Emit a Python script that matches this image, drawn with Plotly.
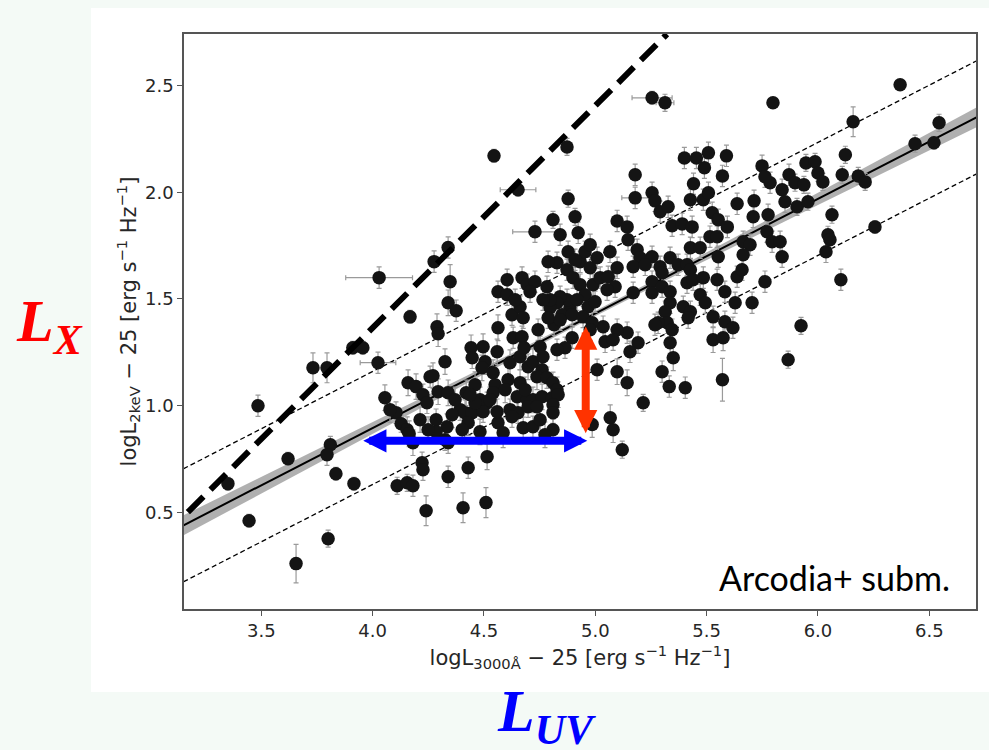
import plotly.graph_objects as go

# ---------------- data ----------------
log_luv = [
    3.350, 3.485, 3.445, 3.620, 3.810, 3.795, 3.835, 3.916, 3.800, 3.656,
    4.029, 4.168, 3.732, 3.795, 3.911, 3.956, 4.024, 4.105, 4.159, 4.195,
    4.226, 4.244, 4.258, 4.128, 4.155, 4.164, 4.181, 4.222, 4.226, 4.110,
    4.155, 4.181, 4.240, 4.406, 4.509, 4.276, 4.339, 4.348, 4.339, 4.375,
    4.289, 4.294, 4.325, 4.271, 4.294, 4.339, 4.285, 4.334, 4.285, 4.393,
    4.415, 4.447, 4.420, 4.460, 4.442, 4.496, 4.447, 4.505, 4.491, 4.559,
    4.563, 4.541, 4.550, 4.541, 4.482, 4.514, 4.496, 4.604, 4.563, 4.604,
    4.671, 4.694, 4.729, 4.783, 4.626, 4.662, 4.676, 4.631, 4.671, 4.743,
    4.752, 4.617, 4.662, 4.698, 4.680, 4.720, 4.765, 4.761, 4.662, 4.738,
    4.783, 4.810, 4.828, 4.608, 4.649, 4.694, 4.720, 4.761, 4.806, 4.833,
    4.617, 4.653, 4.698, 4.738, 4.810, 4.810, 4.626, 4.676, 4.720, 4.810,
    4.563, 4.586, 4.429, 4.460, 4.527, 4.339, 4.429, 4.514, 4.339, 4.886,
    4.873, 4.842, 4.828, 4.851, 4.797, 4.828, 4.873, 4.878, 4.932, 4.954,
    4.977, 4.842, 4.923, 4.729, 4.900, 4.932, 4.954, 4.968, 4.896, 4.864,
    4.990, 4.999, 5.008, 5.400, 5.454, 5.508, 5.490, 5.589, 5.571, 5.179,
    5.179, 5.255, 5.268, 5.441, 5.427, 5.485, 5.508, 5.291, 5.327, 5.098,
    5.143, 5.345, 5.390, 5.435, 5.525, 5.552, 5.593, 5.637, 5.713, 5.749,
    5.785, 5.839, 5.852, 5.709, 5.776, 5.515, 5.547, 5.664, 5.695, 5.771,
    5.794, 5.830, 5.839, 5.664, 5.552, 5.427, 5.471, 5.336, 5.291, 5.255,
    5.147, 5.188, 5.201, 5.066, 5.008, 5.098, 5.170, 5.224, 5.372, 5.412,
    5.427, 5.022, 5.058, 5.089, 5.053, 5.170, 5.255, 5.255, 5.300, 5.336,
    5.300, 5.412, 5.439, 5.485, 5.547, 5.582, 5.637, 5.659, 5.762, 5.471,
    5.494, 5.395, 5.427, 5.628, 5.704, 5.336, 5.314, 5.323, 5.345, 5.282,
    5.336, 5.350, 5.529, 5.582, 5.618, 5.529, 5.574, 5.417, 5.143, 5.192,
    5.156, 5.098, 5.044, 5.080, 5.035, 5.300, 5.866, 5.571, 5.255, 5.313,
    5.798, 6.369, 6.158, 6.544, 6.436, 6.521, 5.762, 5.870, 5.897, 5.937,
    5.946, 5.987, 6.000, 6.022, 6.123, 6.109, 6.181, 6.212, 5.906, 5.955,
    6.063, 6.045, 6.054, 6.256, 6.036, 6.103, 5.924, 4.545, 4.653, 4.873,
    4.878, 4.909, 4.810, 4.797, 4.896, 4.945, 4.815, 4.986, 5.067, 5.080,
    5.121, 5.215, 5.098, 5.143, 4.986, 5.332, 5.404, 5.268, 4.828, 4.788,
    4.765, 4.909, 4.977, 4.918, 4.842, 4.977, 4.788, 4.707, 4.640, 4.055,
    4.078, 4.370, 4.402, 4.357, 4.213, 4.249, 4.325, 4.595, 4.559, 4.685,
    4.752, 4.774, 4.482, 4.438,
]
log_lx = [
    0.634, 0.999, 0.460, 0.751, 0.816, 0.770, 0.680, 0.634, 0.376, 0.259,
    1.600, 1.416, 1.177, 1.177, 1.271, 1.271, 1.201, 0.967, 1.107, 1.089,
    1.051, 1.013, 1.135, 0.915, 0.887, 0.868, 0.826, 0.732, 0.699, 0.624,
    0.638, 0.624, 0.507, 0.521, 0.545, 1.675, 1.741, 1.581, 1.482, 1.445,
    1.370, 1.337, 1.206, 1.140, 1.065, 1.060, 0.934, 0.901, 0.877, 0.981,
    0.967, 0.967, 1.060, 1.098, 1.271, 1.276, 1.224, 1.206, 1.177, 1.252,
    1.365, 1.154, 1.098, 1.060, 1.027, 1.013, 0.971, 1.590, 1.534, 1.520,
    1.600, 1.567, 1.581, 1.557, 1.426, 1.463, 1.412, 1.318, 1.323, 1.356,
    1.276, 1.201, 1.229, 1.182, 1.271, 1.206, 1.229, 1.168, 1.107, 1.135,
    1.131, 1.107, 1.074, 1.121, 1.041, 1.027, 1.027, 1.041, 1.037, 1.051,
    0.981, 0.967, 0.995, 0.995, 1.004, 0.967, 0.948, 0.896, 0.901, 0.887,
    0.920, 0.873, 0.920, 1.013, 1.027, 0.826, 0.709, 0.760, 0.666, 1.459,
    1.496, 1.510, 1.482, 1.426, 1.459, 1.670, 1.637, 1.721, 1.674, 1.721,
    1.754, 1.801, 1.810, 1.815, 1.600, 1.567, 1.520, 1.463, 1.318, 1.271,
    1.567, 1.487, 1.168, 2.161, 2.161, 2.185, 2.115, 2.171, 2.077, 2.082,
    1.974, 1.998, 1.960, 2.040, 1.965, 1.965, 1.998, 1.909, 1.932, 1.866,
    1.838, 1.843, 1.852, 1.838, 1.904, 1.871, 1.838, 1.946, 1.960, 2.124,
    2.045, 2.012, 1.956, 1.885, 1.895, 1.792, 1.792, 1.768, 1.754, 1.815,
    1.768, 1.768, 1.698, 1.707, 1.698, 1.740, 1.740, 1.693, 1.651, 1.698,
    1.778, 1.731, 1.693, 1.721, 1.693, 1.646, 1.651, 1.660, 1.660, 1.660,
    1.637, 1.600, 1.604, 1.557, 1.543, 1.529, 1.581, 1.529, 1.557, 1.534,
    1.623, 1.576, 1.590, 1.600, 1.590, 1.534, 1.604, 1.637, 1.581, 1.520,
    1.482, 1.463, 1.440, 1.482, 1.482, 1.482, 1.440, 1.388, 1.356, 1.388,
    1.295, 1.224, 1.416, 1.393, 1.365, 1.309, 1.318, 1.412, 1.342, 1.295,
    1.252, 1.356, 1.299, 1.309, 1.370, 1.159, 1.215, 1.121, 2.443, 2.420,
    2.420, 2.504, 2.331, 2.326, 2.228, 2.232, 2.073, 2.082, 2.045, 2.035,
    2.138, 2.143, 2.091, 2.049, 2.176, 2.082, 2.077, 2.049, 1.932, 1.956,
    1.895, 1.801, 1.778, 1.838, 1.721, 1.590, 1.374, 2.171, 2.012, 2.213,
    1.970, 1.885, 1.871, 1.496, 1.426, 1.416, 1.379, 0.911, 0.943, 0.887,
    0.793, 1.013, 1.159, 1.107, 1.388, 1.089, 1.084, 1.379, 1.262, 1.674,
    1.496, 1.684, 1.646, 1.496, 1.402, 1.356, 1.412, 1.534, 1.496, 1.037,
    0.981, 1.027, 0.887, 0.957, 0.934, 0.887, 0.840, 1.074, 0.971, 1.074,
    0.934, 0.863, 0.877, 1.051,
]
err_lx = [
    0.03, 0.05, 0.03, 0.03, 0.04, 0.05, 0.03, 0.03, 0.04, 0.09,
    0.05, 0.03, 0.07, 0.07, 0.03, 0.03, 0.05, 0.05, 0.06, 0.06,
    0.05, 0.05, 0.05, 0.04, 0.06, 0.06, 0.06, 0.05, 0.05, 0.04,
    0.04, 0.05, 0.07, 0.07, 0.07, 0.05, 0.05, 0.08, 0.06, 0.05,
    0.06, 0.06, 0.06, 0.06, 0.06, 0.06, 0.05, 0.06, 0.05, 0.05,
    0.06, 0.06, 0.06, 0.06, 0.06, 0.06, 0.05, 0.06, 0.06, 0.06,
    0.06, 0.06, 0.06, 0.05, 0.06, 0.05, 0.05, 0.05, 0.05, 0.05,
    0.05, 0.05, 0.05, 0.05, 0.05, 0.05, 0.05, 0.05, 0.05, 0.05,
    0.05, 0.06, 0.06, 0.06, 0.05, 0.06, 0.05, 0.06, 0.06, 0.06,
    0.05, 0.05, 0.06, 0.06, 0.06, 0.06, 0.06, 0.06, 0.06, 0.06,
    0.05, 0.05, 0.05, 0.05, 0.05, 0.05, 0.05, 0.05, 0.05, 0.05,
    0.07, 0.07, 0.06, 0.06, 0.06, 0.05, 0.05, 0.06, 0.05, 0.05,
    0.05, 0.05, 0.05, 0.05, 0.05, 0.05, 0.05, 0.05, 0.05, 0.05,
    0.05, 0.05, 0.05, 0.05, 0.05, 0.05, 0.05, 0.05, 0.05, 0.05,
    0.05, 0.05, 0.05, 0.05, 0.05, 0.05, 0.05, 0.05, 0.05, 0.05,
    0.05, 0.05, 0.05, 0.05, 0.05, 0.05, 0.05, 0.05, 0.05, 0.05,
    0.05, 0.05, 0.05, 0.05, 0.05, 0.05, 0.05, 0.05, 0.05, 0.05,
    0.05, 0.05, 0.05, 0.05, 0.05, 0.05, 0.05, 0.05, 0.05, 0.05,
    0.05, 0.05, 0.05, 0.05, 0.05, 0.05, 0.05, 0.05, 0.05, 0.05,
    0.05, 0.05, 0.05, 0.05, 0.05, 0.05, 0.05, 0.05, 0.05, 0.05,
    0.05, 0.05, 0.05, 0.05, 0.05, 0.05, 0.05, 0.05, 0.05, 0.05,
    0.05, 0.05, 0.05, 0.05, 0.05, 0.05, 0.05, 0.05, 0.05, 0.05,
    0.05, 0.05, 0.05, 0.05, 0.05, 0.05, 0.05, 0.05, 0.05, 0.05,
    0.05, 0.06, 0.05, 0.05, 0.05, 0.06, 0.06, 0.05, 0.05, 0.05,
    0.05, 0.05, 0.05, 0.05, 0.05, 0.05, 0.04, 0.10, 0.03, 0.04,
    0.02, 0.02, 0.07, 0.04, 0.04, 0.03, 0.05, 0.05, 0.04, 0.04,
    0.04, 0.04, 0.04, 0.04, 0.04, 0.04, 0.04, 0.04, 0.04, 0.04,
    0.04, 0.04, 0.04, 0.03, 0.05, 0.05, 0.04, 0.03, 0.03, 0.04,
    0.04, 0.04, 0.04, 0.05, 0.05, 0.05, 0.05, 0.06, 0.06, 0.06,
    0.04, 0.04, 0.06, 0.06, 0.05, 0.05, 0.05, 0.05, 0.05, 0.05,
    0.05, 0.05, 0.05, 0.05, 0.05, 0.05, 0.05, 0.05, 0.05, 0.06,
    0.06, 0.06, 0.06, 0.06, 0.06, 0.06, 0.05, 0.06, 0.06, 0.06,
    0.06, 0.06, 0.06, 0.06,
]

# sources with visible horizontal (UV) error bars
hx_luv = [4.029, 4.024, 4.653, 4.729, 5.179, 5.255, 5.313]
hx_lx = [1.600, 1.201, 2.012, 1.815, 1.974, 2.443, 2.420]
hx_err = [0.150, 0.080, 0.080, 0.100, 0.060, 0.090, 0.040]

# best-fit relation and dispersion
fit_slope = 0.537
fit_intercept = -1.253
fit_dispersion = 0.265
x_span = [3.15, 6.72]
band_x = [3.15, 3.60, 4.00, 4.50, 4.95, 5.40, 6.00, 6.40, 6.72]
band_half = [0.047, 0.036, 0.026, 0.016, 0.012, 0.016, 0.029, 0.038, 0.047]

# thick dashed reference line
ref_x = [3.17, 5.322]
ref_y = [0.50, 2.742]

# arrows (data coordinates)
uv_arrow_x = [3.951, 4.964]
uv_arrow_y = 0.835
x_arrow_x = 4.957
x_arrow_y = [0.863, 1.371]

x_ticks = [3.5, 4.0, 4.5, 5.0, 5.5, 6.0, 6.5]
y_ticks = [0.5, 1.0, 1.5, 2.0, 2.5]
x_range = [3.1527, 6.7098]
y_range = [0.0462, 2.7424]

# ---------------- figure ----------------
W, H = 989, 750
ML, MR, MT, MB = 184, 13, 34, 141
PW, PH = W - ML - MR, H - MT - MB


def px(xp):
    return (xp - ML) / PW


def py(yp):
    return (H - MB - yp) / PH


def fit(v):
    return fit_intercept + fit_slope * v


fig = go.Figure()

fig.add_trace(go.Scatter(
    x=band_x, y=[fit(v) - h for v, h in zip(band_x, band_half)],
    mode="lines", line=dict(width=0, color="rgba(0,0,0,0)"),
    hoverinfo="skip", showlegend=False))
fig.add_trace(go.Scatter(
    x=band_x, y=[fit(v) + h for v, h in zip(band_x, band_half)],
    mode="lines", line=dict(width=0, color="rgba(0,0,0,0)"),
    fill="tonexty", fillcolor="rgba(150,150,150,0.75)",
    hoverinfo="skip", showlegend=False))

fig.add_trace(go.Scatter(
    x=x_span, y=[fit(v) for v in x_span], mode="lines",
    line=dict(color="black", width=2), showlegend=False))
for s in (1, -1):
    fig.add_trace(go.Scatter(
        x=x_span, y=[fit(v) + s * fit_dispersion for v in x_span], mode="lines",
        line=dict(color="black", width=1.3, dash="5px,3px"), showlegend=False))

fig.add_trace(go.Scatter(
    x=hx_luv, y=hx_lx, mode="markers",
    marker=dict(size=1, color="rgba(0,0,0,0)"),
    error_x=dict(type="data", array=hx_err, color="#9a9a9a", thickness=1.2, width=2.5),
    showlegend=False))

fig.add_trace(go.Scatter(
    x=log_luv, y=log_lx, mode="markers",
    marker=dict(size=13.5, color="#141414", line=dict(width=0)),
    error_y=dict(type="data", array=err_lx, color="#9a9a9a", thickness=1.2, width=2.5),
    showlegend=False))

fig.add_trace(go.Scatter(
    x=ref_x, y=ref_y, mode="lines",
    line=dict(color="black", width=6, dash="22px,10px"), showlegend=False))

tick_font = dict(family="DejaVu Sans", size=18, color="#262626")
title_font = dict(family="DejaVu Sans", size=21, color="#262626")
axis_common = dict(
    showline=True, linecolor="#555555", linewidth=1.5, mirror=True,
    ticks="outside", ticklen=5, tickwidth=1.3, tickcolor="#555555",
    showgrid=False, zeroline=False, tickfont=tick_font, tickformat=".1f")

fig.update_xaxes(
    range=x_range, tickvals=x_ticks,
    title=dict(text="logL<sub>3000Å</sub> − 25 [erg s<sup>−1</sup> Hz<sup>−1</sup>]",
               font=title_font, standoff=10),
    **axis_common)
fig.update_yaxes(
    range=y_range, tickvals=y_ticks,
    title=dict(text="logL<sub>2keV</sub> − 25 [erg s<sup>−1</sup> Hz<sup>−1</sup>]",
               font=title_font, standoff=3),
    **axis_common)

annotations = [
    dict(x=uv_arrow_x[1], y=uv_arrow_y, ax=uv_arrow_x[0], ay=uv_arrow_y,
         xref="x", yref="y", axref="x", ayref="y", text="", showarrow=True,
         arrowside="end+start", arrowhead=2, startarrowhead=2,
         arrowsize=0.58, startarrowsize=0.58, arrowwidth=8, arrowcolor="#0000ff"),
    dict(x=x_arrow_x, y=x_arrow_y[1], ax=x_arrow_x, ay=x_arrow_y[0],
         xref="x", yref="y", axref="x", ayref="y", text="", showarrow=True,
         arrowside="end+start", arrowhead=2, startarrowhead=2,
         arrowsize=0.58, startarrowsize=0.58, arrowwidth=8, arrowcolor="#ff3300"),
    dict(x=px(952), y=py(577), xref="paper", yref="paper", xanchor="right",
         yanchor="middle", showarrow=False, text="Arcodia+ subm.",
         font=dict(family="Lato", size=34, color="black")),
    dict(x=px(14), y=py(325), xref="paper", yref="paper", xanchor="left",
         yanchor="middle", showarrow=False,
         text="<b><i>L</i></b><sub><b><i>X</i></b></sub>",
         font=dict(family="Liberation Serif", size=60, color="#ff0000")),
    dict(x=px(495), y=py(715), xref="paper", yref="paper", xanchor="left",
         yanchor="middle", showarrow=False,
         text="<b><i>L</i></b><sub><b><i>UV</i></b></sub>",
         font=dict(family="Liberation Serif", size=60, color="#0000ff")),
]

fig.update_layout(
    width=W, height=H, autosize=False,
    margin=dict(l=ML, r=MR, t=MT, b=MB, pad=0),
    paper_bgcolor="#f4faf6", plot_bgcolor="white",
    showlegend=False, annotations=annotations,
    shapes=[dict(type="rect", xref="paper", yref="paper", layer="below",
                 x0=px(91), x1=px(989), y0=py(692), y1=py(8),
                 fillcolor="white", line=dict(width=0))],
)

fig.write_html("out.html")
